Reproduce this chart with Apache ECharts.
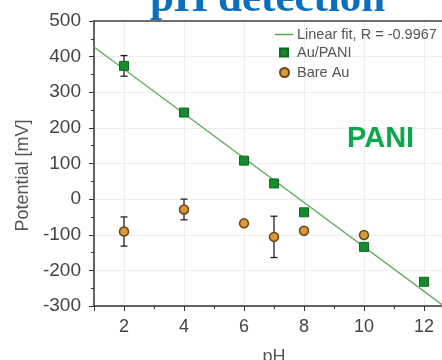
<!DOCTYPE html>
<html><head><meta charset="utf-8">
<script src="https://cdn.jsdelivr.net/npm/echarts@6/dist/echarts.min.js"></script>
<style>html,body{margin:0;padding:0;background:#fff}#c{width:442px;height:360px}</style>
</head><body><div id="c"></div>
<script>
const titleText = 'pH detection';
const panelLabel = 'PANI';
const xTitle = 'pH';
const yTitle = 'Potential [mV]';
const fitName = 'Linear fit, R = -0.9967';
const paniName = 'Au/PANI';
const bareName = 'Bare Au';

const paniPH = [2, 4, 6, 7, 8, 10, 12];
const paniVal = [374, 243, 108, 44, -37, -134, -232];
const paniErr = [29, 6, 5, 5, 5, 6, 5];

const barePH = [2, 4, 6, 7, 8, 10];
const bareVal = [-91, -29, -68, -106, -89, -101];
const bareErr = [41, 29, 5, 58, 5, 9];

const fitPH = [1, 13];
const fitVal = [427, -321];

const chart = echarts.init(document.getElementById('c'), null, {renderer: 'canvas'});

function errData(xs, ys, es) { return xs.map((x, i) => [x, ys[i] - es[i], ys[i] + es[i]]); }
function errRender(params, api) {
  const x = api.value(0);
  const lo = api.coord([x, api.value(1)]);
  const hi = api.coord([x, api.value(2)]);
  const w = 3.5;
  const st = {stroke: '#222', lineWidth: 1.3};
  return {type: 'group', children: [
    {type: 'line', shape: {x1: lo[0], y1: lo[1], x2: hi[0], y2: hi[1]}, style: st},
    {type: 'line', shape: {x1: lo[0] - w, y1: lo[1], x2: lo[0] + w, y2: lo[1]}, style: st},
    {type: 'line', shape: {x1: hi[0] - w, y1: hi[1], x2: hi[0] + w, y2: hi[1]}, style: st}
  ]};
}

const axisFont = 'Liberation Sans, Arial, sans-serif';
chart.setOption({
  animation: false,
  backgroundColor: '#fff',
  title: {
    text: titleText, left: 150, top: -22, padding: 0,
    textStyle: {fontFamily: 'Liberation Serif, Times New Roman, serif', fontWeight: 'bold', fontSize: 43, color: '#0B6FBF'}
  },
  graphic: [{
    type: 'text', left: 347, top: 124, z: 10,
    style: {text: panelLabel, fill: '#0CA64C', font: 'bold 29px Liberation Sans, Arial, sans-serif'}
  }],
  legend: [
    {data: [{name: fitName, icon: 'rect', itemStyle: {color: '#5BAF5B'}}], left: 275, top: 27, padding: 0, itemWidth: 18, itemHeight: 1.6,
      textStyle: {fontFamily: axisFont, fontSize: 14.5, color: '#555', padding: [0, 0, 0, -1]}},
    {data: [{name: paniName, icon: 'rect'}], left: 279, top: 45, padding: 0, itemWidth: 8, itemHeight: 8,
      textStyle: {fontFamily: axisFont, fontSize: 14.5, color: '#555', padding: [0, 0, 0, 4]}},
    {data: [{name: bareName, icon: 'circle'}], left: 279, top: 65, padding: 0, itemWidth: 9, itemHeight: 9,
      textStyle: {fontFamily: axisFont, fontSize: 14.5, color: '#555', padding: [0, 0, 0, 3]}}
  ],
  grid: {left: 94, top: 21, width: 360, height: 285, containLabel: false, outerBoundsMode: 'none'},
  xAxis: [{
    type: 'value', min: 1, max: 13, splitNumber: 6,
    name: xTitle, nameLocation: 'middle', nameGap: 42,
    nameTextStyle: {fontFamily: axisFont, fontSize: 18, color: '#555'},
    axisLine: {onZero: false, lineStyle: {color: '#333', width: 1.5}},
    axisTick: {show: true, inside: false, length: 5, lineStyle: {color: '#333'}},
    minorTick: {show: true, splitNumber: 2, length: 3, lineStyle: {color: '#333'}},
    axisLabel: {margin: 12, fontFamily: axisFont, fontSize: 18, color: '#444',
      formatter: v => (v % 2 === 0 ? String(v) : '')},
    splitLine: {show: true, lineStyle: {color: '#eeeeee', width: 1}}
  }, {
    type: 'value', min: 1, max: 13, position: 'top',
    axisLine: {show: true, onZero: false, lineStyle: {color: '#444', width: 1.5}},
    axisTick: {show: false}, axisLabel: {show: false}, splitLine: {show: false}
  }],
  yAxis: {
    type: 'value', min: -300, max: 500, interval: 100,
    name: yTitle, nameLocation: 'middle', nameGap: 60, nameRotate: 90,
    nameTextStyle: {fontFamily: axisFont, fontSize: 18, color: '#555', padding: [0, 24, 0, 0]},
    axisLine: {show: true, onZero: false, lineStyle: {color: '#333', width: 1.5}},
    axisTick: {show: true, inside: false, length: 5, lineStyle: {color: '#333'}},
    minorTick: {show: true, splitNumber: 2, length: 3, lineStyle: {color: '#333'}},
    axisLabel: {margin: 13, fontFamily: axisFont, fontSize: 19, color: '#444'},
    splitLine: {show: true, lineStyle: {color: '#eeeeee', width: 1}}
  },
  series: [
    {name: fitName, type: 'line', data: fitPH.map((x, i) => [x, fitVal[i]]), symbol: 'none',
      lineStyle: {color: '#5BAF5B', width: 1.3}, itemStyle: {color: '#5BAF5B'}, z: 2, clip: true},
    {name: 'paniErr', type: 'custom', data: errData(paniPH, paniVal, paniErr), renderItem: errRender, z: 3, silent: true},
    {name: 'bareErr', type: 'custom', data: errData(barePH, bareVal, bareErr), renderItem: errRender, z: 3, silent: true},
    {name: paniName, type: 'scatter', data: paniPH.map((x, i) => [x, paniVal[i]]), symbol: 'rect', symbolSize: 9,
      itemStyle: {color: '#178A2E', borderColor: '#0E6A20', borderWidth: 1, opacity: 1}, z: 5},
    {name: bareName, type: 'scatter', data: barePH.map((x, i) => [x, bareVal[i]]), symbol: 'circle', symbolSize: 9,
      itemStyle: {color: '#D69A3A', borderColor: '#6B4413', borderWidth: 1.5, opacity: 1}, z: 5}
  ]
});
</script></body></html>
